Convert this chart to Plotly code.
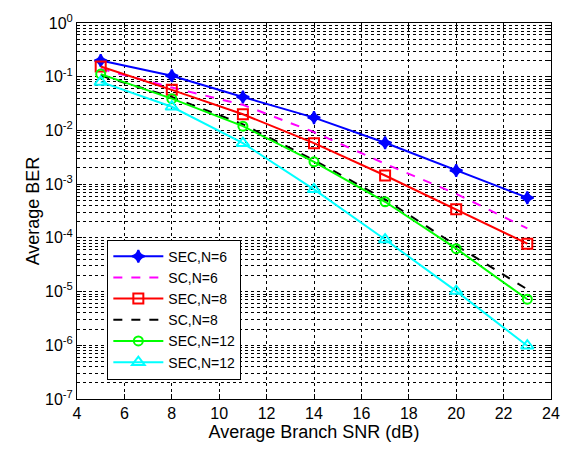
import plotly.graph_objects as go

snr = [5, 8, 11, 14, 17, 20, 23]
sec_n6 = [0.20, 0.104, 0.042, 0.0173, 0.0059, 0.0018, 5.6e-4]
sc_n6 = [0.14, 0.063, 0.030, 0.0093, 0.0024, 6.6e-4, 1.5e-4]
sec_n8 = [0.155, 0.057, 0.020, 0.0058, 0.00145, 3.4e-4, 7.8e-5]
sc_n8 = [0.105, 0.042, 0.013, 0.0028, 5.2e-4, 7.2e-5, 1.1e-5]
sec_n12 = [0.112, 0.039, 0.012, 0.0026, 4.7e-4, 6.3e-5, 7.2e-6]
sec_n12b = [0.080, 0.0276, 0.0058, 8.0e-4, 9.3e-5, 1.02e-5, 9.8e-7]

names = ["SEC,N=6", "SC,N=6", "SEC,N=8", "SC,N=8", "SEC,N=12", "SEC,N=12"]
x_ticks = [4, 6, 8, 10, 12, 14, 16, 18, 20, 22, 24]
y_ticks = [1e-7, 1e-6, 1e-5, 1e-4, 1e-3, 1e-2, 1e-1, 1e0]
y_ticktext = ["10<sup>-7</sup>", "10<sup>-6</sup>", "10<sup>-5</sup>", "10<sup>-4</sup>",
              "10<sup>-3</sup>", "10<sup>-2</sup>", "10<sup>-1</sup>", "10<sup>0</sup>"]

fig = go.Figure()
specs = [
    (sec_n6, "#0000ff", "solid", "star-diamond", 9),
    (sc_n6, "#ff00ff", "dash", None, 0),
    (sec_n8, "#ff0000", "solid", "square-open", 10),
    (sc_n8, "#000000", "dash", None, 0),
    (sec_n12, "#00ff00", "solid", "circle-open", 9),
    (sec_n12b, "#00ffff", "solid", "triangle-up-open", 11),
]
for (vals, col, dash, sym, size), name in zip(specs, names):
    if sym:
        fig.add_trace(go.Scatter(
            x=snr, y=vals, name=name, mode="lines+markers",
            line=dict(color=col, width=2, dash=dash),
            marker=dict(symbol=sym, size=size, color=col, line=dict(color=col, width=2)),
        ))
    else:
        fig.add_trace(go.Scatter(
            x=snr, y=vals, name=name, mode="lines",
            line=dict(color=col, width=2, dash=dash),
        ))

fam = "Liberation Sans, Arial, sans-serif"
fig.update_layout(
    width=572, height=451,
    margin=dict(l=77, r=14, t=22, b=52),
    paper_bgcolor="white", plot_bgcolor="white",
    font=dict(family=fam, size=16, color="black"),
    showlegend=True,
    legend=dict(x=0.064, y=0.424, xanchor="left", yanchor="top",
                bgcolor="white", bordercolor="black", borderwidth=1,
                font=dict(family=fam, size=14, color="black"),
                tracegroupgap=0, itemwidth=50),
)
fig.update_xaxes(
    range=[4, 24], tickvals=x_ticks, ticktext=[str(v) for v in x_ticks],
    tickfont=dict(size=16),
    title=dict(text="Average Branch SNR (dB)", font=dict(size=18), standoff=4),
    showline=True, linecolor="black", linewidth=1, mirror="ticks",
    ticks="inside", ticklen=5, tickcolor="black",
    showgrid=True, gridcolor="black", griddash="dot", gridwidth=1,
    zeroline=False,
)
fig.update_yaxes(
    type="log", range=[-7, 0], tickvals=y_ticks, ticktext=y_ticktext,
    tickfont=dict(size=16),
    title=dict(text="Average BER", font=dict(size=18), standoff=0),
    showline=True, linecolor="black", linewidth=1, mirror="ticks",
    ticks="inside", ticklen=5, tickcolor="black",
    showgrid=True, gridcolor="black", griddash="dot", gridwidth=1,
    minor=dict(dtick="D1", showgrid=True, gridcolor="black", griddash="dot",
               gridwidth=1, ticks="inside", ticklen=3, tickcolor="black"),
    zeroline=False,
)
fig.write_html("out.html", config={"displayModeBar": False},
               post_script="document.body.style.margin='0px';")
